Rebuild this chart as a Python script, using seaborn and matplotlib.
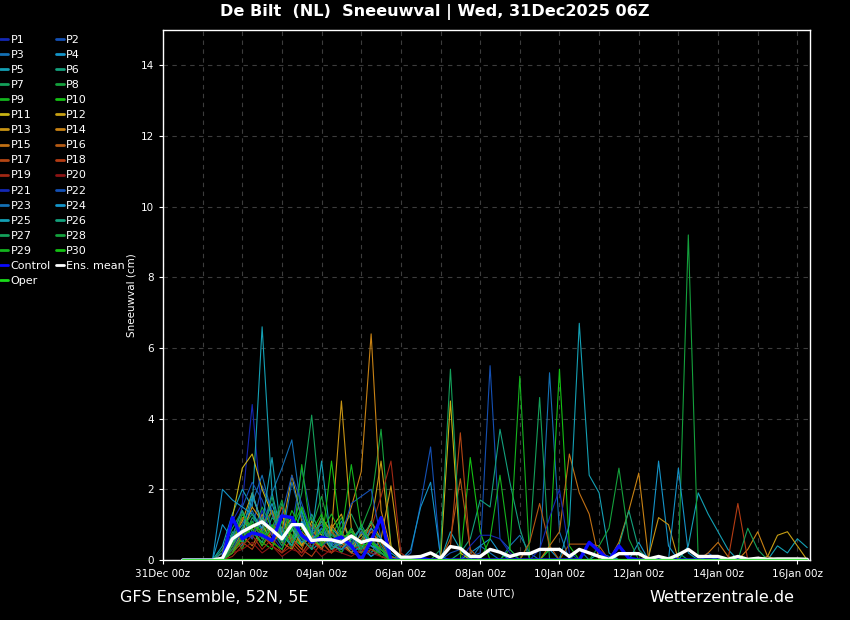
import matplotlib
matplotlib.use("Agg")
import matplotlib.pyplot as plt
import matplotlib.dates as mdates
from matplotlib.lines import Line2D
import seaborn as sns
import pandas as pd

# 6-hourly steps, 31Dec 12z .. 16Jan 06z (64 values per series)
times = pd.date_range("2025-12-31 12:00", periods=64, freq="6h")

p01 = [0, 0, 0, 0, 0.3, 1.1, 1.6, 4.4, 1.2, 0.8, 0.4, 1.0, 0.6, 0.3, 0.9, 0.5,
       0.2, 0.6, 0.3, 0.1, 0.4, 0, 0, 0, 0, 0, 0, 0, 0, 0, 0, 0,
       0, 0, 0, 0, 0, 0, 0, 0, 0, 0, 0, 0, 0, 0, 0, 0,
       0, 0, 0, 0, 0, 0, 0, 0, 0, 0, 0, 0, 0, 0, 0, 0]
p02 = [0, 0, 0, 0, 0, 0.5, 1.3, 0.9, 2.1, 1.4, 0.7, 0.9, 2.6, 1.1, 0.4, 0.8,
       0.3, 0.5, 0.2, 0.6, 0.3, 0.1, 0, 0.2, 1.6, 3.2, 0, 0.2, 0.3, 0.1, 0.2, 5.5,
       0.6, 0.3, 0, 0, 0, 0, 0, 0, 0, 0, 0, 0, 0, 0, 0, 0,
       0, 0, 0, 0, 0, 0.2, 0, 0, 0, 0, 0, 0, 0, 0, 0, 0]
p03 = [0, 0, 0, 0, 0, 0.2, 0.9, 1.4, 0.8, 1.9, 2.6, 3.4, 1.3, 0.6, 0.9, 0.4,
       1.1, 0.5, 0.3, 0.2, 0.6, 0.1, 0, 0, 0, 0, 0, 0, 0, 0, 0.4, 0.2,
       0, 0.4, 0.7, 0.2, 0, 5.3, 0.8, 0, 0.3, 0, 0, 0, 0, 0, 0, 0,
       0, 0, 0, 0, 0, 0, 0, 0, 0, 0, 0, 0, 0, 0, 0, 0]
p04 = [0, 0, 0, 0, 1.0, 0.6, 0.4, 1.8, 1.1, 0.9, 0.5, 1.2, 0.4, 0.7, 0.3, 0.9,
       0.6, 0.2, 0.4, 0.1, 0.3, 0, 0, 0.3, 1.5, 2.2, 0.1, 0, 0, 0.2, 0.4, 0.6,
       0.2, 0, 0, 0, 0, 0.3, 0, 0, 0, 0, 0.2, 0.1, 0, 0, 0.5, 0,
       2.8, 0.4, 0, 0, 0, 0.1, 0, 0, 0, 0, 0, 0, 0, 0, 0, 0]
p05 = [0, 0, 0, 0, 0.4, 1.3, 2.0, 1.5, 6.6, 1.9, 0.7, 0.6, 1.4, 0.3, 0.5, 0.8,
       0.4, 0.9, 0.2, 0.5, 0.3, 0, 0, 0, 0, 0, 0, 0.8, 0.3, 0, 0, 0,
       0, 0, 0, 0, 0, 0, 0, 0, 0, 0, 0, 0, 0, 0, 0, 0,
       0, 0, 0, 0.4, 1.9, 1.3, 0.8, 0.3, 0, 0, 0, 0, 0.4, 0.2, 0.6, 0.35]
p06 = [0, 0, 0, 0, 0, 0.8, 0.5, 1.2, 0.9, 1.4, 1.1, 0.6, 0.4, 1.3, 0.7, 0.3,
       0.5, 0.8, 0.4, 0.2, 0.6, 0, 0, 0, 0, 0, 0, 0, 0.2, 0.6, 1.7, 1.5,
       3.7, 2.2, 0.9, 0, 0, 0, 0, 0, 0, 0, 0, 0, 0, 0, 0, 0,
       0, 0, 0.2, 0, 0, 0, 0, 0, 0, 0, 0, 0, 0, 0, 0, 0]
p07 = [0, 0, 0, 0, 0.3, 0.9, 1.4, 0.6, 1.2, 0.7, 1.6, 0.8, 1.9, 4.1, 1.2, 0.5,
       0.9, 1.3, 0.7, 0.4, 0.3, 0, 0, 0, 0, 0, 0, 0, 0, 0, 0, 0,
       0, 0, 0, 0.5, 4.6, 0, 0, 0, 0, 0, 0, 0, 0, 0, 0, 0,
       0, 0, 0, 0, 0, 0, 0, 0, 0, 0, 0, 0, 0, 0, 0, 0]
p08 = [0, 0, 0, 0, 0, 0.6, 1.0, 0.7, 1.5, 0.9, 0.4, 1.1, 0.6, 0.9, 1.8, 0.7,
       1.2, 0.5, 0.9, 1.6, 3.7, 0.4, 0, 0, 0, 0, 0, 0, 0, 0, 0, 0,
       0, 0, 0, 0, 0, 0, 0, 0, 0, 0, 0, 0, 0, 0, 0, 0,
       0, 0, 0, 9.2, 0, 0, 0, 0, 0, 0, 0, 0, 0, 0, 0, 0]
p09 = [0, 0, 0, 0, 0.2, 0.7, 0.3, 1.1, 0.6, 1.4, 0.9, 0.3, 2.7, 0.6, 0.4, 0.9,
       0.3, 0.6, 0.2, 0.5, 0.1, 0, 0, 0, 0, 0, 0, 0, 0, 0, 0, 0,
       0, 0.3, 5.2, 0, 0, 0, 0, 0, 0, 0, 0, 0, 0, 0, 0, 0,
       0, 0, 0, 0, 0, 0, 0, 0, 0, 0, 0, 0, 0, 0, 0, 0]
p10 = [0, 0, 0, 0, 0, 0.4, 1.2, 0.8, 0.5, 0.3, 1.1, 0.7, 0.4, 0.8, 1.3, 0.6,
       0.2, 0.9, 0.4, 0.3, 0.2, 0, 0, 0, 0, 0, 0, 0, 0, 2.9, 0.8, 0,
       0, 0, 0, 0, 0, 0.3, 5.4, 0.4, 0, 0, 0, 0, 0, 0, 0, 0,
       0, 0, 0, 0, 0, 0, 0, 0, 0, 0, 0, 0, 0, 0, 0, 0]
p11 = [0, 0, 0, 0, 0.2, 1.2, 2.6, 3.0, 2.0, 1.3, 0.6, 0.9, 0.4, 1.1, 0.7, 0.3,
       0.5, 0.2, 0.8, 0.4, 0.2, 0, 0, 0, 0, 0, 0, 4.5, 0.2, 0, 0, 0,
       0, 0, 0, 0, 0, 0, 0, 0, 0, 0, 0, 0, 0, 0, 0, 0,
       0, 0, 0, 0, 0, 0, 0, 0, 0, 0, 0, 0, 0, 0, 0, 0]
p12 = [0, 0, 0, 0, 0, 0.6, 1.1, 1.9, 1.0, 0.5, 0.8, 2.4, 1.1, 0.6, 0.3, 0.9,
       1.3, 0.4, 0.7, 1.0, 2.8, 0.4, 0, 0, 0, 0, 0, 0, 0, 0, 0, 0,
       0, 0, 0, 0, 0, 0, 0, 0, 0, 0, 0, 0, 0, 0, 0, 0,
       0, 0, 0, 0, 0, 0, 0, 0, 0, 0, 0, 0.1, 0.7, 0.8, 0.4, 0]
p13 = [0, 0, 0, 0, 0, 0.3, 0.8, 1.5, 1.1, 0.7, 1.3, 0.5, 0.9, 0.6, 1.2, 0.8,
       4.5, 0.9, 0.4, 1.1, 0.6, 2.1, 0, 0, 0, 0, 0, 0, 0, 0, 0, 0,
       0, 0, 0, 0, 0, 0, 0, 0, 0, 0, 0, 0, 0, 0, 0, 0.1,
       1.2, 1.0, 0, 0, 0, 0, 0, 0, 0, 0, 0, 0, 0, 0, 0, 0]
p14 = [0, 0, 0, 0, 0, 0.4, 0.9, 0.6, 1.3, 0.5, 0.8, 1.2, 0.4, 0.7, 0.3, 1.0,
       0.6, 1.5, 2.5, 6.4, 1.4, 0.3, 0, 0, 0, 0, 0, 0, 0, 0, 0, 0,
       0, 0, 0, 0, 0, 0, 0, 0, 0, 0, 0, 0, 0.5, 1.4, 2.46, 0,
       0, 0, 0, 0, 0, 0, 0, 0, 0, 0.3, 0.8, 0.1, 0, 0, 0, 0]
p15 = [0, 0, 0, 0, 0, 0.2, 0.7, 0.4, 0.9, 1.4, 0.5, 0.3, 0.8, 0.5, 1.1, 0.6,
       0.3, 0.7, 0.4, 0.8, 0.5, 0, 0, 0, 0, 0, 0, 0, 0, 0, 0, 0,
       0, 0, 0, 0, 0, 0.4, 0.8, 3.0, 1.9, 1.3, 0, 0, 0, 0, 0, 0,
       0, 0, 0, 0, 0, 0.2, 0.5, 0.1, 0, 0, 0, 0, 0, 0, 0, 0]
p16 = [0, 0, 0, 0, 0, 0.5, 1.2, 0.9, 0.4, 0.8, 1.5, 0.6, 0.3, 1.0, 0.5, 0.2,
       0.8, 0.4, 0.6, 0.9, 0.3, 0.1, 0, 0, 0, 0, 0, 0.6, 2.3, 0.3, 0, 0,
       0, 0, 0, 0.5, 1.6, 0.4, 0, 0.45, 0.45, 0.45, 0.4, 0, 0, 0, 0, 0,
       0, 0, 0, 0, 0, 0, 0, 0, 0, 0, 0, 0, 0, 0, 0, 0]
p17 = [0, 0, 0, 0, 0, 0.3, 0.6, 1.0, 0.7, 0.4, 0.9, 0.5, 0.2, 0.6, 0.3, 0.8,
       0.5, 0.3, 0.2, 0.6, 0.2, 0, 0, 0, 0, 0, 0, 0.4, 3.6, 0.2, 0, 0,
       0, 0, 0, 0, 0, 0, 0, 0, 0, 0, 0, 0, 0, 0, 0, 0,
       0, 0, 0, 0, 0, 0, 0, 0, 0, 0, 0, 0, 0, 0, 0, 0]
p18 = [0, 0, 0, 0, 0, 0.2, 0.5, 0.3, 0.8, 0.4, 0.2, 0.6, 0.3, 0.1, 0.5, 0.2,
       0.4, 0.2, 0.1, 0.3, 0.1, 0, 0, 0, 0, 0, 0, 0, 0, 0, 0, 0,
       0, 0, 0, 0, 0, 0, 0, 0, 0, 0, 0, 0, 0, 0, 0, 0,
       0, 0, 0, 0, 0, 0, 0, 0, 1.6, 0, 0, 0, 0, 0, 0, 0]
p19 = [0, 0, 0, 0, 0, 0.1, 0.4, 0.7, 0.3, 0.6, 0.2, 0.4, 0.1, 0.5, 0.3, 0.2,
       0.6, 0.3, 0.4, 0.9, 1.8, 2.8, 0.2, 0, 0, 0, 0, 0, 0, 0, 0, 0,
       0, 0, 0, 0, 0, 0, 0, 0, 0, 0, 0, 0, 0, 0, 0, 0,
       0, 0, 0, 0, 0, 0, 0, 0, 0, 0, 0, 0, 0, 0, 0, 0]
p20 = [0, 0, 0, 0, 0, 0.2, 0.3, 0.5, 0.2, 0.4, 0.1, 0.3, 0.2, 0.4, 0.1, 0.3,
       0.2, 0.1, 0.3, 0.2, 0.1, 0, 0, 0, 0, 0, 0, 0, 0, 0, 0, 0,
       0, 0, 0, 0, 0, 0, 0, 0, 0, 0, 0, 0, 0, 0, 0, 0,
       0, 0, 0, 0, 0, 0, 0, 0, 0, 0, 0, 0, 0, 0, 0, 0]
p21 = [0, 0, 0, 0, 0, 0.3, 0.9, 0.6, 1.4, 0.7, 0.3, 1.1, 0.5, 0.8, 0.4, 0.6,
       0.3, 0.5, 0.9, 0.4, 0.2, 0, 0, 0.1, 0, 0, 0, 0, 0, 0.4, 0.7, 0.7,
       0.6, 0.2, 0, 0, 0.3, 1.2, 2.0, 0.2, 0, 0, 0, 0, 0, 0, 0, 0,
       0, 0, 0, 0, 0, 0, 0, 0, 0, 0, 0, 0, 0, 0, 0, 0]
p22 = [0, 0, 0, 0, 0, 0.6, 1.5, 2.2, 1.7, 0.9, 1.3, 2.4, 1.6, 0.8, 1.0, 0.5,
       0.7, 1.6, 1.8, 2.0, 0.6, 0, 0, 0, 0, 0, 0, 0, 0, 0, 0, 0,
       0, 0, 0, 0, 0, 0, 0, 0, 0, 0, 0, 0, 0, 0, 0, 0,
       0, 0, 0, 0, 0, 0, 0, 0, 0, 0, 0, 0, 0, 0, 0, 0]
p23 = [0, 0, 0, 0, 0.2, 0.7, 1.0, 1.6, 2.4, 1.3, 0.6, 2.2, 1.2, 0.5, 0.9, 0.4,
       0.6, 0.3, 0.8, 0.4, 0.2, 0, 0, 0, 0, 0, 0, 0, 0, 0, 0, 0,
       0, 0, 0, 0, 0, 0, 0, 0, 0, 0, 0, 0, 0, 0, 0, 0,
       0, 0, 0, 0, 0, 0, 0, 0, 0, 0, 0, 0, 0, 0, 0, 0]
p24 = [0, 0, 0, 0, 2.0, 1.7, 1.5, 1.3, 0.9, 1.6, 0.7, 0.4, 1.1, 0.6, 0.8, 0.3,
       0.5, 0.7, 0.3, 0.9, 0.6, 0.2, 0, 0, 0, 0, 0, 0, 0, 0, 0, 0,
       0, 0, 0, 0, 0, 0, 0, 0, 0, 0, 0, 0, 0, 0, 0, 0,
       0, 0, 2.6, 0.2, 0, 0, 0, 0, 0, 0, 0, 0, 0, 0, 0, 0]
p25 = [0, 0, 0, 0, 0, 0.5, 0.8, 1.9, 1.0, 2.9, 0.6, 0.9, 0.5, 0.7, 2.8, 0.4,
       0.3, 0.6, 0.9, 0.4, 0.3, 0, 0, 0, 0, 0, 0, 0, 0, 0, 0, 0,
       0, 0, 0, 0, 0, 0, 0, 1.0, 6.7, 2.4, 1.9, 0.2, 0, 0, 0, 0,
       0, 0, 0, 0, 0, 0, 0, 0, 0, 0, 0, 0, 0, 0, 0, 0]
p26 = [0, 0, 0, 0, 0, 0.7, 1.4, 0.8, 0.5, 1.2, 0.9, 0.4, 1.5, 0.7, 1.1, 0.3,
       0.6, 0.4, 1.0, 0.5, 0.2, 0, 0, 0, 0, 0, 0, 0, 0, 0, 0, 0,
       0, 0, 0, 0, 0, 0, 0, 0, 0, 0, 0, 0, 0.4, 1.4, 0.3, 0,
       0, 0, 0, 0, 0, 0, 0, 0, 0, 0, 0, 0, 0, 0, 0, 0]
p27 = [0, 0, 0, 0, 0, 0.4, 0.9, 1.3, 0.7, 1.8, 0.5, 1.0, 0.6, 0.3, 1.2, 0.5,
       0.8, 0.3, 0.5, 1.1, 0.4, 0, 0, 0, 0, 0, 0.3, 5.4, 0.4, 0, 0, 0,
       0, 0, 0, 0, 0, 0, 0, 0, 0, 0, 0, 0, 0, 0, 0, 0,
       0, 0, 0, 0, 0, 0, 0, 0, 0, 0.9, 0.3, 0, 0, 0, 0, 0]
p28 = [0, 0, 0, 0, 0, 0.3, 0.7, 1.1, 0.6, 0.9, 1.7, 0.5, 0.8, 1.2, 0.4, 0.7,
       0.5, 0.9, 0.3, 0.6, 0.2, 0, 0, 0, 0, 0, 0, 0, 0, 0, 0, 0,
       0, 0, 0, 0, 0, 0, 0, 0, 0, 0, 0.4, 0.9, 2.6, 0.6, 0, 0,
       0, 0, 0, 0, 0, 0, 0, 0, 0, 0, 0, 0, 0, 0, 0, 0]
p29 = [0, 0, 0, 0, 0, 0.5, 1.3, 0.9, 0.4, 1.0, 0.6, 1.4, 0.9, 0.5, 0.8, 1.3,
       0.7, 2.7, 0.9, 0.5, 0.3, 0, 0, 0, 0, 0, 0, 0, 0, 0, 0, 0.6,
       2.4, 0.3, 0, 0, 0, 0, 0, 0, 0, 0, 0, 0, 0, 0, 0, 0,
       0, 0, 0, 0, 0, 0, 0, 0, 0, 0, 0, 0, 0, 0, 0, 0]
p30 = [0, 0, 0, 0, 0, 0.2, 0.6, 1.0, 0.8, 0.5, 0.3, 0.9, 1.5, 0.6, 0.4, 2.8,
       0.6, 0.8, 0.4, 0.5, 0.3, 0, 0, 0, 0, 0, 0, 0, 0, 0, 0, 0,
       0, 0, 0, 0, 0, 0, 0, 0, 0, 0, 0, 0, 0, 0, 0, 0,
       0, 0, 0, 0, 0, 0, 0, 0, 0, 0, 0, 0, 0, 0, 0, 0]

control = [0, 0, 0, 0, 0, 1.2, 0.6, 0.77, 0.7, 0.55, 1.25, 1.2, 0.7, 0.5, 0.65, 0.55,
           0.65, 0.4, 0, 0.55, 1.2, 0, 0, 0.05, 0.05, 0, 0, 0, 0, 0, 0, 0,
           0, 0, 0, 0, 0, 0, 0, 0, 0, 0.5, 0.25, 0, 0.4, 0.05, 0, 0,
           0, 0, 0, 0, 0, 0, 0, 0, 0, 0, 0, 0, 0, 0, 0, 0]
ens_mean = [0, 0, 0, 0, 0.05, 0.6, 0.8, 0.95, 1.08, 0.85, 0.6, 1.0, 1.0, 0.55, 0.58, 0.57,
            0.5, 0.68, 0.5, 0.58, 0.55, 0.33, 0.08, 0.08, 0.1, 0.2, 0.05, 0.38, 0.33, 0.1, 0.1, 0.3,
            0.22, 0.1, 0.18, 0.18, 0.3, 0.3, 0.3, 0.1, 0.3, 0.2, 0.1, 0.02, 0.18, 0.18, 0.18, 0.03,
            0.1, 0.03, 0.15, 0.3, 0.1, 0.1, 0.1, 0.02, 0.1, 0.02, 0.05, 0.02, 0.03, 0.03, 0.03, 0.02]
oper = [0, 0, 0, 0, 0, 0, 0, 0, 0, 0, 0, 0, 0, 0, 0, 0,
        0, 0, 0, 0, 0, 0, 0, 0, 0, 0, 0, 0, 0, 0, 0, 0,
        0, 0, 0, 0, 0, 0, 0, 0, 0, 0, 0, 0, 0, 0, 0, 0,
        0, 0, 0, 0, 0, 0, 0, 0, 0, 0, 0, 0, 0, 0, 0, 0]

members = [p01, p02, p03, p04, p05, p06, p07, p08, p09, p10,
           p11, p12, p13, p14, p15, p16, p17, p18, p19, p20,
           p21, p22, p23, p24, p25, p26, p27, p28, p29, p30]
member_names = ["P%d" % (k + 1) for k in range(30)]

# member colours (P21-P30 repeat P1-P10)
base_colors = ["#1428b4", "#1450b4", "#1470b4", "#1494c8", "#14a0b4",
               "#14a07c", "#14a05a", "#14a03c", "#14b41e", "#14c014",
               "#c8b414", "#c8a014", "#c89414", "#c88214", "#c07014",
               "#b45a14", "#b44614", "#b43c14", "#a02814", "#8c1414"]
member_colors = base_colors + base_colors[:10]
control_color = "#0a0aff"
oper_color = "#1adc1a"

sns.set_style("dark", {
    "figure.facecolor": "black", "axes.facecolor": "black",
    "axes.edgecolor": "white", "text.color": "white",
    "axes.labelcolor": "white", "xtick.color": "white", "ytick.color": "white",
    "xtick.bottom": True, "ytick.left": True,
})
plt.rcParams["font.family"] = ["DejaVu Sans"]

# long table for seaborn
rows = []
for name, vals in zip(member_names, members):
    for t, v in zip(times, vals):
        rows.append((t, name, v))
df = pd.DataFrame(rows, columns=["time", "member", "snow"])

fig = plt.figure(figsize=(8.5, 6.2), dpi=100, facecolor="black")
ax = fig.add_axes([163 / 850, 60 / 620, 647 / 850, 530 / 620])
ax.set_facecolor("black")

sns.lineplot(data=df, x="time", y="snow", hue="member", hue_order=member_names,
             palette=dict(zip(member_names, member_colors)), linewidth=0.8,
             estimator=None, legend=False, ax=ax)
sns.lineplot(x=times, y=control, color=control_color, linewidth=2.4, ax=ax)
sns.lineplot(x=times, y=ens_mean, color="white", linewidth=2.4, ax=ax)
sns.lineplot(x=times, y=oper, color=oper_color, linewidth=1.6, ax=ax)

ax.set_xlim(pd.Timestamp("2025-12-31 00:00"), pd.Timestamp("2026-01-16 07:40"))
ax.set_ylim(0, 15)
ax.set_xticks(pd.date_range("2025-12-31", "2026-01-16", freq="2D"))
ax.set_xticks(pd.date_range("2025-12-31", "2026-01-16", freq="1D"), minor=True)
ax.xaxis.set_major_formatter(mdates.DateFormatter("%d%b %Hz"))
ax.set_yticks(range(0, 15, 2))
ax.tick_params(which="major", labelsize=7.5, length=3, width=0.8, colors="white")
ax.tick_params(which="minor", length=0)
ax.grid(True, which="both", axis="x", color="#3c3c3c", linestyle=(0, (4, 4)), linewidth=0.8)
ax.grid(True, which="major", axis="y", color="#3c3c3c", linestyle=(0, (4, 4)), linewidth=0.8)
for s in ax.spines.values():
    s.set_color("white")
    s.set_linewidth(1)

ax.set_xlabel("Date (UTC)", fontsize=7.5)
ax.set_ylabel("Sneeuwval (cm)", fontsize=7.5)
ax.xaxis.set_label_coords(0.5, -(589 - 560) / 530)
ax.yaxis.set_label_coords((136 - 163) / 647, 0.5)

# legend: row-major P1 P2 / P3 P4 ...
handles = [Line2D([], [], color=c, linewidth=2) for c in member_colors]
ctrl_h = Line2D([], [], color=control_color, linewidth=2)
mean_h = Line2D([], [], color="white", linewidth=2)
oper_h = Line2D([], [], color=oper_color, linewidth=2)
col1 = [(handles[k], member_names[k]) for k in range(0, 30, 2)] + [(ctrl_h, "Control"), (oper_h, "Oper")]
col2 = [(handles[k], member_names[k]) for k in range(1, 30, 2)] + [(mean_h, "Ens. mean")]
items = col1 + col2
fig.legend([h for h, _ in items], [l for _, l in items], loc="upper left",
           bbox_to_anchor=(0.0, 1 - 35 / 620), ncol=2, frameon=False, fontsize=8,
           handlelength=0.75, handletextpad=0.2, columnspacing=0.45,
           labelspacing=0.455, borderaxespad=0, borderpad=0, labelcolor="white")

fig.text(435 / 850, 1 - 12 / 620, "De Bilt  (NL)  Sneeuwval | Wed, 31Dec2025 06Z",
         ha="center", va="center", fontsize=11.6, fontweight="bold", color="white")
fig.text(120 / 850, 1 - 598 / 620, "GFS Ensemble, 52N, 5E",
         ha="left", va="center", fontsize=11.5, color="white")
fig.text(794 / 850, 1 - 598 / 620, "Wetterzentrale.de",
         ha="right", va="center", fontsize=11.5, color="white")

fig.savefig("out.png", dpi=100, facecolor="black")
